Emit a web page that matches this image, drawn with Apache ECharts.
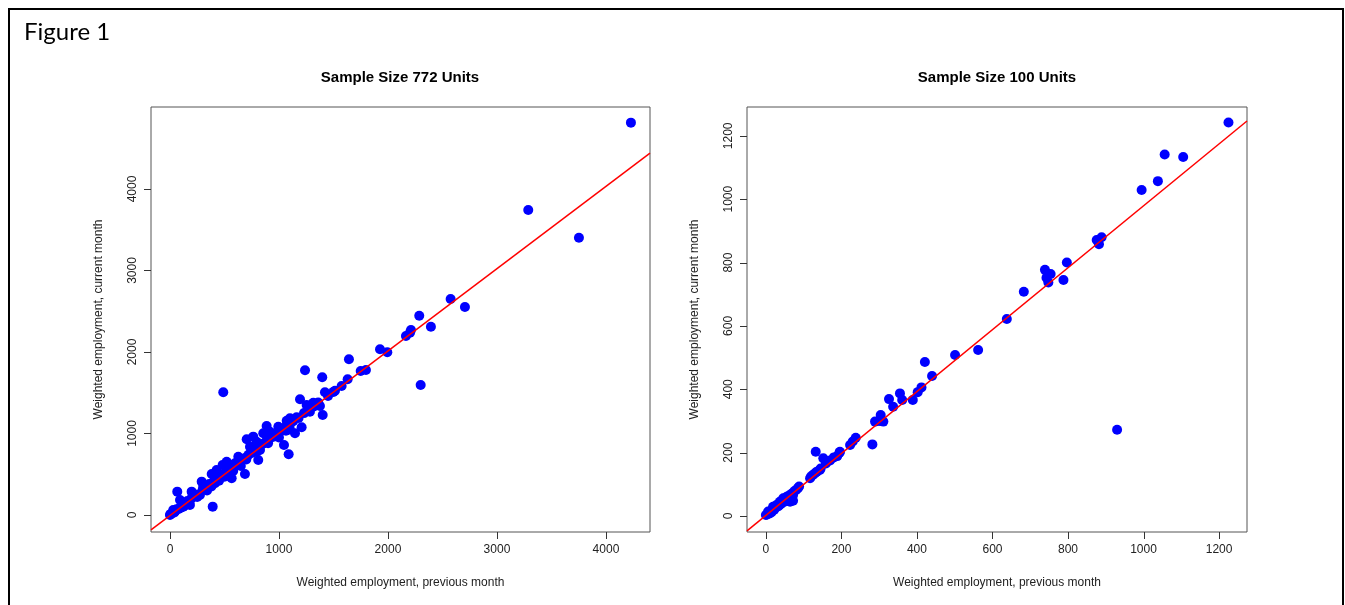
<!DOCTYPE html>
<html>
<head>
<meta charset="utf-8">
<script src="https://cdn.jsdelivr.net/npm/echarts@6/dist/echarts.min.js"></script>
<style>
html,body{margin:0;padding:0;background:#fff;}
#chart{width:1345px;height:605px;}
</style>
</head>
<body>
<div id="chart"></div>
<script>
// ---- Data ----
const leftTitle = "Sample Size 772 Units";
const rightTitle = "Sample Size 100 Units";
const xAxisTitle = "Weighted employment, previous month";
const yAxisTitle = "Weighted employment, current month";

const leftXTicks = [0, 1000, 2000, 3000, 4000];
const leftYTicks = [0, 1000, 2000, 3000, 4000];
const rightXTicks = [0, 200, 400, 600, 800, 1000, 1200];
const rightYTicks = [0, 200, 400, 600, 800, 1000, 1200];

const leftPoints = [
[4229,4814],[3287,3742],[3752,3402],[2575,2650],[2706,2552],[2287,2445],[2394,2310],[2211,2270],[2165,2196],[2202,2237],
[2300,1595],[1927,2033],[1994,1996],[1642,1911],[1750,1767],[1798,1779],[1630,1665],[1575,1583],[1514,1525],[1422,1506],
[1397,1690],[1401,1227],[1239,1775],[489,1506],[1193,1420],[1254,1350],[1315,1378],[1376,1337],[1284,1267],[1208,1076],
[1147,1002],[1046,859],[1089,745],[1071,1157],[1101,1187],[1162,1199],[994,1083],[1064,1034],[887,1092],[917,1022],
[856,1002],[764,961],[704,929],[795,899],[734,838],[826,798],[810,675],[627,715],[596,634],[688,503],
[520,654],[550,593],[483,613],[566,450],[428,552],[474,491],[383,503],[413,389],[291,409],[306,347],
[275,245],[199,286],[183,123],[67,286],[92,184],[392,102],[122,102],[30,61],[0,0],[5,10],
[50,50],[80,75],[110,120],[140,150],[160,170],[200,210],[230,240],[260,250],[300,310],[330,340],
[360,380],[400,410],[420,440],[450,460],[480,500],[510,520],[540,560],[570,590],[600,610],[630,650],
[660,680],[690,700],[720,740],[750,760],[780,800],[820,830],[850,870],[880,900],[910,930],[950,960],
[980,1000],[1020,1030],[1050,1070],[1100,1110],[1130,1150],[1180,1190],[1230,1250],[1270,1290],[1320,1330],[1360,1380],
[1450,1460],[1500,1510],[1100,1050],[1000,950],[900,880],[800,780],[700,680],[650,600],[580,540],[500,470],
[450,420],[380,350],[340,300],[250,220],[180,160],[20,20],[40,30],[60,70],[100,90],[130,110]
];

const rightPoints = [
[1225,1242],[1056,1141],[1105,1133],[1038,1057],[995,1029],[876,871],[889,880],[882,858],[797,800],[788,745],
[739,777],[754,764],[743,752],[748,737],[683,708],[638,622],[930,272],[355,387],[326,369],[337,345],
[361,366],[389,366],[402,391],[412,406],[421,486],[440,442],[501,508],[562,524],[311,298],[289,298],
[304,319],[282,226],[238,247],[223,224],[196,203],[189,189],[132,203],[152,182],[159,166],[143,145],
[130,135],[117,119],[88,93],[72,66],[55,61],[46,56],[64,45],[37,45],[28,35],[19,29],
[6,14],[0,3],[72,48],[10,8],[15,12],[22,20],[25,27],[32,30],[40,38],[42,48],
[50,52],[58,60],[62,65],[68,70],[75,78],[80,82],[3,5],[12,16],[35,33],[48,44],
[85,88],[120,125],[125,130],[135,140],[145,150],[170,175],[180,185],[195,200],[230,235],[300,300]
];

// fitted lines: slope, intercept
const leftFit = [1.01, -8];
const rightFit = [0.977, 2];

// axis ranges
const leftXRange = [-174, 4404];
const leftYRange = [-209, 5006];
const rightXRange = [-50, 1274];
const rightYRange = [-50.5, 1291];

function fitLine(fit, xr) {
  return [[xr[0], fit[0]*xr[0]+fit[1]], [xr[1], fit[0]*xr[1]+fit[1]]];
}

const labelFont = {fontFamily: 'Liberation Sans, Arial, sans-serif', fontSize: 12, color: '#222'};
const plain = v => String(v);
const TICK_LEN = 7;

function xAxisCfg(idx, range, ticks) {
  return {
    type: 'value', gridIndex: idx, min: range[0], max: range[1], position: 'bottom',
    name: xAxisTitle, nameLocation: 'middle', nameGap: 45,
    nameTextStyle: labelFont,
    axisLine: {show: false, onZero: false},
    axisTick: {show: false},
    axisLabel: Object.assign({customValues: ticks, margin: 12, formatter: plain}, labelFont),
    splitLine: {show: false}
  };
}
function yAxisCfg(idx, range, ticks) {
  return {
    type: 'value', gridIndex: idx, min: range[0], max: range[1], position: 'left',
    name: yAxisTitle, nameLocation: 'middle', nameGap: 46, nameRotate: 90,
    nameTextStyle: labelFont,
    axisLine: {show: false, onZero: false},
    axisTick: {show: false},
    axisLabel: Object.assign({customValues: ticks, rotate: 90, margin: 12, formatter: plain}, labelFont),
    splitLine: {show: false}
  };
}

const chart = echarts.init(document.getElementById('chart'), null, {renderer: 'canvas'});
const baseGraphic = [
  {type: 'rect', shape: {x: 9, y: 9, width: 1334, height: 620}, style: {fill: 'none', stroke: '#000', lineWidth: 2}, silent: true},
  {type: 'text', x: 24, y: 32, style: {text: 'Figure 1', font: '24px Lato, "Open Sans", sans-serif', fill: '#000', textAlign: 'left', textVerticalAlign: 'middle'}},
  {type: 'text', x: 400, y: 78, style: {text: leftTitle, font: 'bold 15px "Liberation Sans", Arial, sans-serif', fill: '#000', textAlign: 'center', textVerticalAlign: 'middle'}},
  {type: 'text', x: 997, y: 78, style: {text: rightTitle, font: 'bold 15px "Liberation Sans", Arial, sans-serif', fill: '#000', textAlign: 'center', textVerticalAlign: 'middle'}}
];

chart.setOption({
  animation: false,
  backgroundColor: '#fff',
  grid: [
    {left: 151, top: 107, width: 499, height: 425, show: true, borderColor: '#555', borderWidth: 1, backgroundColor: 'transparent'},
    {left: 747, top: 107, width: 500, height: 425, show: true, borderColor: '#555', borderWidth: 1, backgroundColor: 'transparent'}
  ],
  xAxis: [xAxisCfg(0, leftXRange, leftXTicks), xAxisCfg(1, rightXRange, rightXTicks)],
  yAxis: [yAxisCfg(0, leftYRange, leftYTicks), yAxisCfg(1, rightYRange, rightYTicks)],
  series: [
    {type: 'scatter', xAxisIndex: 0, yAxisIndex: 0, data: leftPoints, symbolSize: 10,
     itemStyle: {color: '#0000ff', opacity: 1}},
    {type: 'line', xAxisIndex: 0, yAxisIndex: 0, data: fitLine(leftFit, leftXRange), symbol: 'none',
     lineStyle: {color: '#ff0000', width: 1.5}, clip: true, z: 3},
    {type: 'scatter', xAxisIndex: 1, yAxisIndex: 1, data: rightPoints, symbolSize: 10,
     itemStyle: {color: '#0000ff', opacity: 1}},
    {type: 'line', xAxisIndex: 1, yAxisIndex: 1, data: fitLine(rightFit, rightXRange), symbol: 'none',
     lineStyle: {color: '#ff0000', width: 1.5}, clip: true, z: 3}
  ],
  graphic: baseGraphic
});

// Tick marks: positions come from the axes' own scales via convertToPixel.
function tickGraphics(idx, xTicks, yTicks, xRange, yRange) {
  const out = [];
  const yBottom = chart.convertToPixel({yAxisIndex: idx}, yRange[0]);
  const xLeft = chart.convertToPixel({xAxisIndex: idx}, xRange[0]);
  xTicks.forEach(v => {
    const x = Math.round(chart.convertToPixel({xAxisIndex: idx}, v)) + 0.5;
    out.push({type: 'line', silent: true, z: 100,
      shape: {x1: x, y1: yBottom, x2: x, y2: yBottom + TICK_LEN},
      style: {stroke: '#333', lineWidth: 1}});
  });
  yTicks.forEach(v => {
    const y = Math.round(chart.convertToPixel({yAxisIndex: idx}, v)) + 0.5;
    out.push({type: 'line', silent: true, z: 100,
      shape: {x1: xLeft - TICK_LEN, y1: y, x2: xLeft, y2: y},
      style: {stroke: '#333', lineWidth: 1}});
  });
  return out;
}

const ticks = [].concat(
  tickGraphics(0, leftXTicks, leftYTicks, leftXRange, leftYRange),
  tickGraphics(1, rightXTicks, rightYTicks, rightXRange, rightYRange)
);
chart.setOption({graphic: baseGraphic.concat(ticks)}, {replaceMerge: ['graphic']});
</script>
</body>
</html>
